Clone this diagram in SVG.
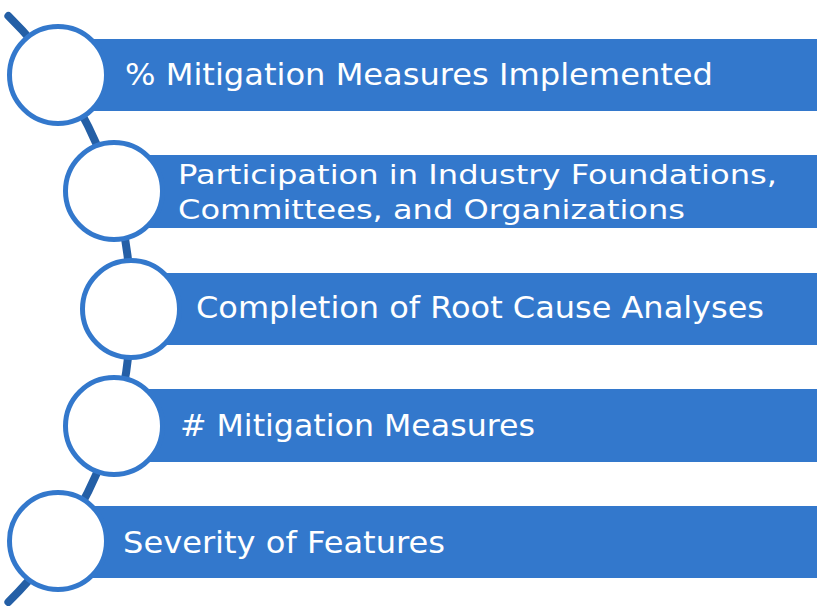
<svg xmlns="http://www.w3.org/2000/svg" width="817" height="606" viewBox="0 0 817 606">
<style>
.bar{fill:#3378cc}
.ring{fill:#ffffff;stroke:#3378cc;stroke-width:5}
.lbl{fill:#ffffff;font-family:"DejaVu Sans",Verdana,sans-serif;font-size:30px}
.sm{font-size:26.5px}
.arc{fill:none;stroke:#245fa6;stroke-width:8;stroke-linecap:round}
</style>
<rect width="817" height="606" fill="#ffffff"/>
<g id="connectors">
<path class="arc" d="M 8.4 16 A 411.5 411.5 0 0 1 8.4 602"/>
</g>
<g id="node1">
<rect class="bar" x="58" y="39" width="759" height="72"/>
<circle class="ring" cx="58" cy="75" r="48.5"/>
<text class="lbl" x="125" y="85" textLength="588" lengthAdjust="spacingAndGlyphs">% Mitigation Measures Implemented</text>
</g>
<g id="node2">
<rect class="bar" x="114" y="155" width="703" height="73"/>
<circle class="ring" cx="114" cy="191" r="48.5"/>
<text class="lbl sm" x="178" y="184" textLength="599" lengthAdjust="spacingAndGlyphs">Participation in Industry Foundations,</text>
<text class="lbl sm" x="178" y="219" textLength="507" lengthAdjust="spacingAndGlyphs">Committees, and Organizations</text>
</g>
<g id="node3">
<rect class="bar" x="131" y="273" width="686" height="72"/>
<circle class="ring" cx="131" cy="309" r="48.5"/>
<text class="lbl" x="196" y="318" textLength="568" lengthAdjust="spacingAndGlyphs">Completion of Root Cause Analyses</text>
</g>
<g id="node4">
<rect class="bar" x="114" y="389" width="703" height="73"/>
<circle class="ring" cx="114" cy="426" r="48.5"/>
<text class="lbl" x="180" y="436" textLength="355" lengthAdjust="spacingAndGlyphs"># Mitigation Measures</text>
</g>
<g id="node5">
<rect class="bar" x="58" y="506" width="759" height="72"/>
<circle class="ring" cx="58" cy="541" r="48.5"/>
<text class="lbl" x="123" y="553" textLength="322" lengthAdjust="spacingAndGlyphs">Severity of Features</text>
</g>
</svg>
